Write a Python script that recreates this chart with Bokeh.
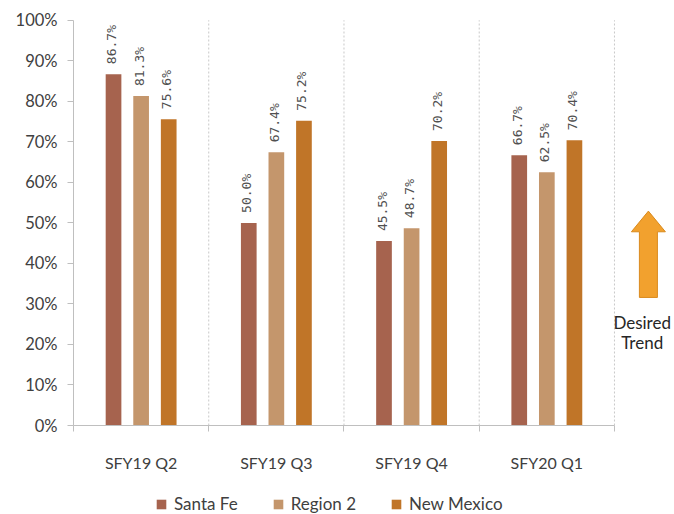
from bokeh.plotting import figure
from bokeh.layouts import column
from bokeh.models import FixedTicker, Legend, LegendItem, Range1d, ColumnDataSource
from bokeh.core.properties import value
from bokeh.embed import file_html
from bokeh.resources import INLINE
import math

categories = ["SFY19 Q2", "SFY19 Q3", "SFY19 Q4", "SFY20 Q1"]
santa_fe = [86.7, 50.0, 45.5, 66.7]
region_2 = [81.3, 67.4, 48.7, 62.5]
new_mexico = [75.6, 75.2, 70.2, 70.4]
series_names = ["Santa Fe", "Region 2", "New Mexico"]
series_values = [santa_fe, region_2, new_mexico]
y_ticks = [0, 10, 20, 30, 40, 50, 60, 70, 80, 90, 100]

colors = ["#A6634E", "#C4966C", "#C07528"]
offsets = [-0.204, 0.0, 0.204]
bar_w = 0.116
FONT = "Lato"
TXT = "#404040"
n = len(categories)

p = figure(width=674, height=474, output_backend="svg", toolbar_location=None,
           x_range=Range1d(0, 4.444), y_range=Range1d(0, 102.9),
           min_border_left=73, min_border_right=0, min_border_top=8, min_border_bottom=40)
p.outline_line_color = None
p.xgrid.grid_line_color = None
p.ygrid.grid_line_color = None

# category separators (dotted)
bounds_x = list(range(1, n + 1))
p.segment(x0=bounds_x, x1=bounds_x, y0=[0] * n, y1=[100] * n,
          line_color="#C8C8C8", line_dash="2 2", line_width=1)

renderers = []
for name, vals, col, off in zip(series_names, series_values, colors, offsets):
    xs = [i + 0.5 + off for i in range(n)]
    src = ColumnDataSource(dict(x=xs, top=vals, lab=[f"{v:.1f}%" for v in vals]))
    r = p.vbar(x="x", top="top", width=bar_w, source=src, fill_color=col, line_color=None)
    renderers.append(r)
    p.text(x="x", y="top", text="lab", source=src, angle=math.pi / 2,
           text_align="left", text_baseline="middle", x_offset=-2, y_offset=-10,
           text_font=value("DejaVu Sans Mono"), text_font_size="13px", text_color="#505050")

# x axis
xa = p.xaxis[0]
xa.ticker = FixedTicker(ticks=[i + 0.5 for i in range(n)], minor_ticks=list(range(n + 1)))
xa.major_label_overrides = {i + 0.5: c for i, c in enumerate(categories)}
xa.bounds = (0, n)
xa.axis_line_color = "#BFBFBF"
xa.major_tick_out = 0
xa.major_tick_in = 0
xa.minor_tick_out = 6
xa.minor_tick_in = 0
xa.minor_tick_line_color = "#BFBFBF"
xa.major_label_standoff = 21
xa.major_label_text_font = FONT
xa.major_label_text_font_size = "16px"
xa.major_label_text_color = TXT

# y axis
ya = p.yaxis[0]
ya.ticker = FixedTicker(ticks=y_ticks)
ya.major_label_overrides = {t: f"{t}%" for t in y_ticks}
ya.bounds = (0, 100)
ya.axis_line_color = "#BFBFBF"
ya.major_tick_line_color = "#BFBFBF"
ya.major_tick_out = 6
ya.major_tick_in = 0
ya.minor_tick_out = 0
ya.minor_tick_in = 0
ya.major_label_standoff = 10
ya.major_label_text_font = FONT
ya.major_label_text_font_size = "16.5px"
ya.major_label_text_color = TXT

# desired trend arrow (decoration)
ax_c, sh, hh = 4.251, 0.0665, 0.1257
tip, base, bot = 52.9, 47.8, 31.6
p.patch(x=[ax_c, ax_c + hh, ax_c + sh, ax_c + sh, ax_c - sh, ax_c - sh, ax_c - hh],
        y=[tip, base, base, bot, bot, base, base],
        fill_color="#F2A12E", line_color="#D98A1E", line_width=1)
p.text(x=[4.205, 4.205], y=[25.5, 20.5], text=["Desired", "Trend"],
       text_align="center", text_baseline="middle",
       text_font=value(FONT), text_font_size="17px", text_color="#262626")

# legend strip
q = figure(width=674, height=40, output_backend="svg", toolbar_location=None,
           x_axis_type=None, y_axis_type=None, x_range=Range1d(0, 1), y_range=Range1d(0, 1),
           min_border_left=0, min_border_right=0, min_border_top=0, min_border_bottom=0)
q.outline_line_color = None
q.xgrid.grid_line_color = None
q.ygrid.grid_line_color = None
leg_r = []
for col in colors:
    leg_r.append(q.quad(left=[2], right=[3], bottom=[2], top=[3],
                        fill_color=col, line_color=None))
legend = Legend(items=[LegendItem(label=nm, renderers=[r]) for nm, r in zip(series_names, leg_r)],
                orientation="horizontal", location=(82, 0),
                glyph_width=12, glyph_height=12, label_standoff=7, spacing=34,
                label_text_font=FONT, label_text_font_size="17px", label_text_color=TXT,
                border_line_color=None, background_fill_color=None,
                margin=0, padding=7)
q.add_layout(legend)

open("out.html", "w").write(file_html(column(p, q), INLINE))
